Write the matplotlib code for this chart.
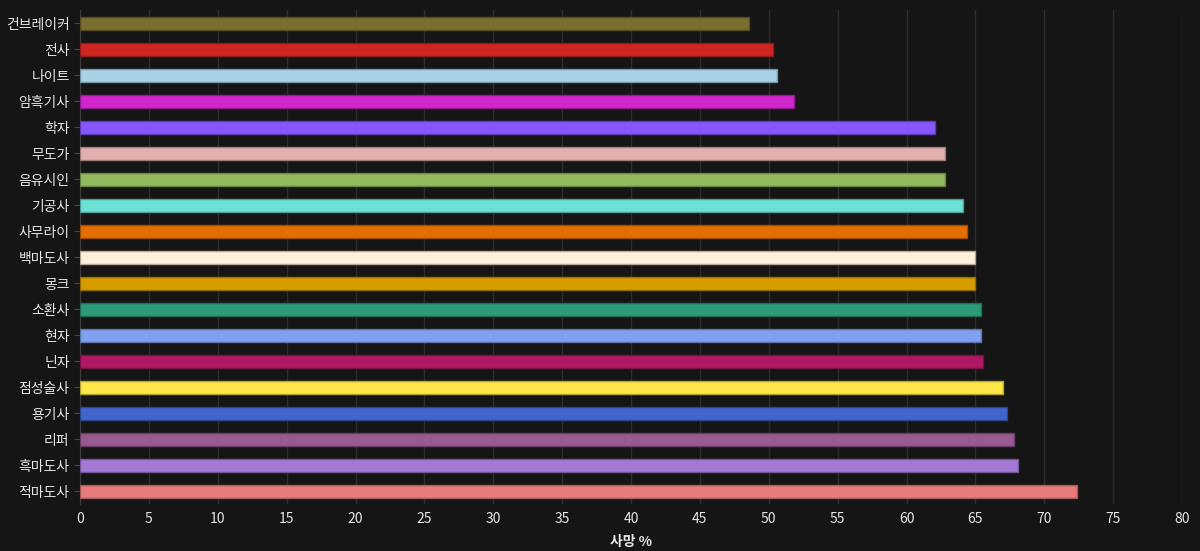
import matplotlib
matplotlib.use("Agg")
import matplotlib.pyplot as plt
import matplotlib.colors as mcolors

plt.rcParams['font.family'] = ['Noto Sans CJK KR', 'DejaVu Sans']

jobs = ["건브레이커", "전사", "나이트", "암흑기사", "학자", "무도가", "음유시인",
        "기공사", "사무라이", "백마도사", "몽크", "소환사", "현자", "닌자",
        "점성술사", "용기사", "리퍼", "흑마도사", "적마도사"]
death_pct = [48.6, 50.3, 50.6, 51.8, 62.1, 62.8, 62.8,
             64.1, 64.4, 65.0, 65.0, 65.4, 65.4, 65.55,
             67.0, 67.3, 67.8, 68.1, 72.4]
job_colors = ["#796D30", "#CF2621", "#A8D2E6", "#D126CC", "#8657FF", "#E2B0AF", "#91BA5E",
              "#6EE1D6", "#E46D04", "#FFF0DC", "#D69C00", "#2D9B78", "#80A0F0", "#AF1964",
              "#FFE74A", "#4164CD", "#965A90", "#A579D6", "#E87B7B"]

bg = "#151515"
text_color = "#e6e6e6"


def darker(c, f=0.7):
    r, g, b = mcolors.to_rgb(c)
    return (r * f, g * f, b * f)


fig = plt.figure(figsize=(12, 5.51), dpi=100, facecolor=bg)
ax = fig.add_axes([80 / 1200, 1 - 504 / 551, 1102 / 1200, 494 / 551])
ax.set_facecolor(bg)

ypos = list(range(len(jobs)))
ax.barh(ypos, death_pct, height=0.5, color=job_colors,
        edgecolor=[darker(c) for c in job_colors], linewidth=1, zorder=3)

ax.set_ylim(len(jobs) - 0.5, -0.5)
ax.set_yticks(ypos)
ax.set_yticklabels(jobs)
ax.set_xlim(0, 80)
ax.set_xticks(range(0, 81, 5))

ax.grid(axis="x", color="#2c2c2c", linewidth=1, zorder=0)
ax.grid(axis="y", visible=False)

for s in ["top", "right", "bottom"]:
    ax.spines[s].set_visible(False)
ax.spines["left"].set_color("#3a3a3a")

ax.tick_params(axis="y", colors="#444444", labelcolor=text_color, length=4, labelsize=10)
ax.tick_params(axis="x", length=0, labelcolor=text_color, labelsize=10, pad=6)

ax.set_xlabel("사망 %", color=text_color, fontsize=10, fontweight="bold", labelpad=6)

fig.savefig("out.png", dpi=100, facecolor=bg)
